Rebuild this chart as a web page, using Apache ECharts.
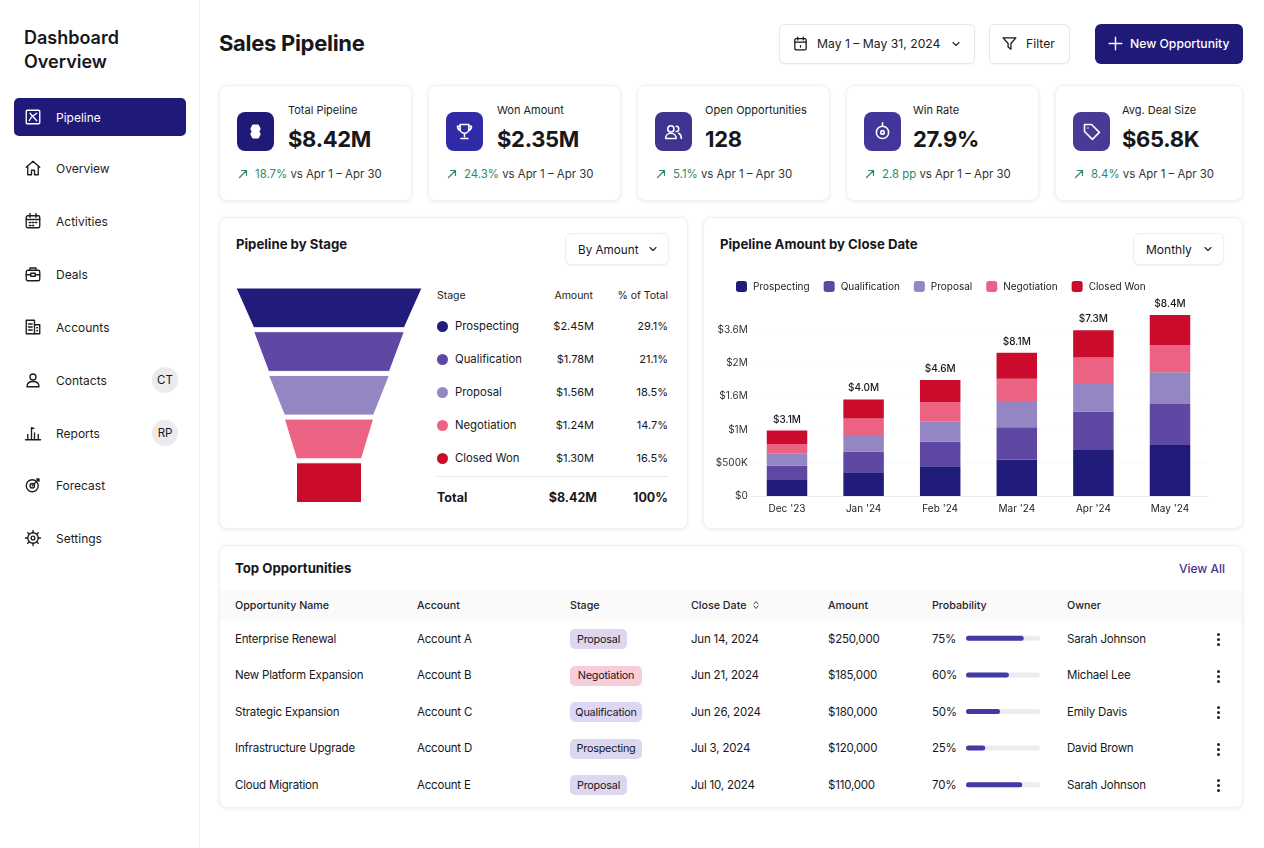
<!DOCTYPE html>
<html><head><meta charset="utf-8"><title>Sales Pipeline</title>
<script src="https://cdn.jsdelivr.net/npm/echarts@6/dist/echarts.min.js"></script>
<style>
html,body{margin:0;padding:0;background:#fff;width:1264px;height:848px;overflow:hidden;font-family:Inter,"Noto Sans",sans-serif;color:#17171c}
.a{position:absolute}
.t{position:absolute;white-space:nowrap;transform:translateY(-50%);line-height:1.2}
.r{transform:translate(-100%,-50%)}
.card{position:absolute;background:#fff;border:1px solid #f1f1f4;border-radius:8px;box-shadow:0 1px 4px rgba(30,30,60,.07);box-sizing:border-box}
.btn{position:absolute;background:#fff;border:1px solid #e7e7eb;border-radius:6px;box-shadow:0 1px 2px rgba(30,30,60,.05);box-sizing:border-box}
svg.i{position:absolute;fill:none;stroke:currentColor;stroke-width:1.8;stroke-linecap:round;stroke-linejoin:round}
#chart{position:absolute;left:0;top:0;width:1264px;height:848px;z-index:5}
</style></head><body><div id="ui"></div><div id="chart"></div>
<script>
// ---------- chart data ----------
const stages = ['Prospecting','Qualification','Proposal','Negotiation','Closed Won'];
const stageColors = ['#211c7a','#5e48a3','#9486c2','#ec6283','#cb0b2c'];
const funnelWidths = [100,81,65,48,35];
const stageAmounts = ['$2.45M','$1.78M','$1.56M','$1.24M','$1.30M'];
const stageShares = ['29.1%','21.1%','18.5%','14.7%','16.5%'];
const months = ["Dec '23","Jan '24","Feb '24","Mar '24","Apr '24","May '24"];
const prospecting = [251,356,447,547,693,768];
const qualification = [206,311,371,487,577,617];
const proposal = [186,251,306,381,417,477];
const negotiation = [141,251,291,351,397,407];
const closedWon = [201,286,331,391,412,457];
const totalLabels = ['$3.1M','$4.0M','$4.6M','$8.1M','$7.3M','$8.4M'];
const yTickLabels = ['$0','$500K','$1M','$1.6M','$2M','$3.6M',''];
// ---------- table / KPI data ----------
const oppNames = ['Enterprise Renewal','New Platform Expansion','Strategic Expansion','Infrastructure Upgrade','Cloud Migration'];
const oppAccounts = ['Account A','Account B','Account C','Account D','Account E'];
const oppStages = ['Proposal','Negotiation','Qualification','Prospecting','Proposal'];
const oppDates = ['Jun 14, 2024','Jun 21, 2024','Jun 26, 2024','Jul 3, 2024','Jul 10, 2024'];
const oppAmounts = ['$250,000','$185,000','$180,000','$120,000','$110,000'];
const oppProb = [75,60,50,25,70];
const oppBarFill = [78,58,46,26,76];
const oppOwners = ['Sarah Johnson','Michael Lee','Emily Davis','David Brown','Sarah Johnson'];
const kpiLabels = ['Total Pipeline','Won Amount','Open Opportunities','Win Rate','Avg. Deal Size'];
const kpiValues = ['$8.42M','$2.35M','128','27.9%','$65.8K'];
const kpiDeltas = ['18.7%','24.3%','5.1%','2.8 pp','8.4%'];
const kpiCompare = 'vs Apr 1 – Apr 30';
const navItems = ['Pipeline','Overview','Activities','Deals','Accounts','Contacts','Reports','Forecast','Settings'];

// ---------- page furniture ----------
const NAVY='#1f1a78';
let h='';
const T=(x,y,s,st='',right=false)=>{h+=`<div class="t${right?' r':''}" style="left:${x}px;top:${y+0.6}px;${st}">${s}</div>`};
const BOX=(c,x,y,w,ht,st='')=>{h+=`<div class="${c}" style="left:${x}px;top:${y}px;width:${w}px;height:${ht}px;${st}"></div>`};
const ICON=(x,y,s,p,st='')=>{h+=`<svg class="i" viewBox="0 0 24 24" style="left:${x}px;top:${y}px;width:${s}px;height:${s}px;${st}">${p}</svg>`};
const chev=(x,y)=>ICON(x,y,12,'<path d="M6 9l6 6 6-6"/>','stroke-width:2.2;color:#222');
const icons={
 Pipeline:'<rect x="3" y="3" width="18" height="18" rx="1.5"/><path d="M8 7l9 10M17 7l-7 5-3 5"/>',
 Overview:'<path d="M3 11l9-8 9 8M5 10v11h5v-6h4v6h5V10"/>',
 Activities:'<rect x="3" y="5" width="18" height="16" rx="2"/><path d="M3 10h18M8 2v5M16 2v5M7 14h2M11 14h2M15 14h2M7 18h2M11 18h2"/>',
 Deals:'<rect x="3" y="7" width="18" height="14" rx="2"/><path d="M8 7V4h8v3M3 13h6M15 13h6M9 11h6v4H9z"/>',
 Accounts:'<rect x="3" y="3" width="11" height="18"/><path d="M14 9h7v12h-7M6 8h5M6 12h5M6 16h5M17 13h1M17 17h1"/>',
 Contacts:'<circle cx="12" cy="8" r="4"/><path d="M4 21c0-5 4-7 8-7s8 2 8 7z"/>',
 Reports:'<path d="M2 21h20M5 21v-7M10 21V5l3 1M14 21v-9M19 21v-7"/>',
 Forecast:'<circle cx="11" cy="13" r="8"/><circle cx="11" cy="13" r="3"/><path d="M11 13L20 4M17 4h3v3"/>',
 Settings:'<circle cx="12" cy="12" r="7"/><circle cx="12" cy="12" r="2.5"/><path d="M12 2v3M12 19v3M2 12h3M19 12h3M5 5l2 2M17 17l2 2M19 5l-2 2M7 17l-2 2"/>'
};
// sidebar
BOX('a',199,0,1,848,'background:#f1f1f3');
T(24,37,'Dashboard','font-size:18px;font-weight:600');
T(24,61,'Overview','font-size:18px;font-weight:600');
BOX('a',14,98,172,38,`background:${NAVY};border-radius:5px`);
const navY=[117,168,221,274,327,380,433,485,538];
navItems.forEach((n,i)=>{
  ICON(24,navY[i]-9,18,icons[n],`color:${i?'#1d1d22':'#fff'}`);
  T(56,navY[i],n,`font-size:12px;color:${i?'#1d1d22':'#fff'}`);
});
[['CT',380],['RP',433]].forEach(([s,y])=>{
  BOX('a',152,y-13,26,26,'background:#ebebee;border-radius:50%');
  T(165,y,s,'font-size:11.5px;transform:translate(-50%,-50%)');
});
// header
T(219,42,'Sales Pipeline','font-size:22px;font-weight:700;letter-spacing:-.3px');
BOX('btn',779,24,196,40);
ICON(792,35,17,'<rect x="4" y="5" width="16" height="16" rx="2"/><path d="M4 10h16M8 3v4M16 3v4M12 15v2"/>');
T(817,43.5,'May 1 – May 31, 2024','font-size:12.2px;color:#222'); chev(950,38);
BOX('btn',989,24,81,40);
ICON(1001,35,17,'<path d="M3 4h18l-7 8v8l-4-3v-5z"/>');
T(1026,43.5,'Filter','font-size:12.2px;color:#222');
BOX('a',1095,24,148,40,`background:${NAVY};border-radius:6px`);
ICON(1106,34,19,'<path d="M12 4v16M4 12h16"/>','color:#fff');
T(1130,43.5,'New Opportunity','font-size:12.2px;font-weight:500;color:#fff');
// KPI cards
const kpiX=[219,428,637,846,1055];
const kpiW=[193,193,193,193,188];
const kpiTextX=[288,497,705,913,1122];
const kpiBg=[NAVY,'#2f2aa8','#3f3490','#43369a','#4a3a98'];
const kpiIcons=[
 '<path d="M9 5h6l2 4-1.5 3 1.5 3-2 4H9l-2-4 1.5-3L7 9z" fill="#fff" stroke="#fff"/>',
 '<path d="M7 4h10v5a5 5 0 0 1-10 0zM7 6H4c0 3 1 4 3 5M17 6h3c0 3-1 4-3 5M12 14v4M8 20h8"/>',
 '<circle cx="9" cy="9" r="3.5"/><path d="M3 20c0-4 3-6 6-6s6 2 6 6zM15 6a3 3 0 0 1 0 6M18 14c2 1 3 3 3 6"/>',
 '<circle cx="12" cy="13" r="7"/><circle cx="12" cy="13" r="2"/><path d="M12 2v4"/>',
 '<path d="M4 4h8l9 9-8 8-9-9zM8 8h.01"/>'];
kpiX.forEach((x,i)=>{
  BOX('card',x,85,kpiW[i],116);
  const ic=x+18;
  BOX('a',ic,112,37,39,`background:${kpiBg[i]};border-radius:8px`);
  ICON(ic+8,121,21,kpiIcons[i],'color:#fff');
  T(kpiTextX[i],110,kpiLabels[i],'font-size:11px;color:#222');
  T(kpiTextX[i],138,kpiValues[i],'font-size:22px;font-weight:700;letter-spacing:-.3px');
  ICON(x+18,168,12,'<path d="M5 19L19 5M9 5h10v10"/>','color:#2f8a5f;stroke-width:2.4');
  T(x+36,174,`<span style="color:#2f8a5f">${kpiDeltas[i]}</span>&nbsp;${kpiCompare}`,'font-size:11.4px;color:#333');
});
// chart cards
BOX('card',219,217,469,312);
BOX('card',703,217,540,312);
T(236,244,'Pipeline by Stage','font-size:13.2px;font-weight:700');
T(720,244,'Pipeline Amount by Close Date','font-size:13.2px;font-weight:700');
BOX('btn',565,233,104,32,'border-color:#efeff2');
T(578,249,'By Amount','font-size:11.7px'); chev(647,243);
BOX('btn',1133,233,91,32,'border-color:#efeff2');
T(1146,249,'Monthly','font-size:12px'); chev(1202,243);
// stage table
T(437,295,'Stage','font-size:10.5px;color:#222');
T(593,295,'Amount','font-size:10.5px;color:#222',true);
T(668,295,'% of Total','font-size:10.5px;color:#222',true);
const stageY=[326,359,392,425,458];
stages.forEach((s,i)=>{
  BOX('a',437,stageY[i]-5.5,11,11,`background:${stageColors[i]};border-radius:50%`);
  T(455,stageY[i],s,'font-size:11.3px');
  T(594,stageY[i],stageAmounts[i],'font-size:11px',true);
  T(668,stageY[i],stageShares[i],'font-size:11px',true);
});
BOX('a',437,476,231,1,'background:#e6e6ea');
T(437,496,'Total','font-size:12.5px;font-weight:700');
T(597,496,'$8.42M','font-size:12.5px;font-weight:700',true);
T(668,496,'100%','font-size:12.5px;font-weight:700',true);
// opportunities table
BOX('card',219,545,1024,263);
T(235,568,'Top Opportunities','font-size:13.2px;font-weight:700');
T(1225,568,'View All','font-size:12px;font-weight:500;color:#4b2f8f',true);
BOX('a',220,590,1022,31,'background:#fafafa');
const colX=[235,417,570,691,828,932,1067];
['Opportunity Name','Account','Stage','Close Date','Amount','Probability','Owner'].forEach((s,i)=>T(colX[i],605,s,'font-size:10.7px;font-weight:500;color:#222'));
ICON(750,599,12,'<path d="M8 10l4-5 4 5M8 14l4 5 4-5"/>','stroke-width:2;color:#444');
const rowY=[639,675.5,712,748.5,785];
const badge={Proposal:['#dcd6ef',57],Negotiation:['#f9cdd8',72],Qualification:['#ddd7f5',72],Prospecting:['#dcd6ef',72]};
oppNames.forEach((n,i)=>{
  const y=rowY[i],b=badge[oppStages[i]];
  const cell='font-size:11.5px;letter-spacing:-.2px';
  T(colX[0],y,n,cell);
  T(colX[1],y,oppAccounts[i],cell);
  BOX('a',colX[2],y-10,b[1],20,`background:${b[0]};border-radius:5px`);
  T(colX[2]+b[1]/2,y,oppStages[i],'font-size:10.8px;transform:translate(-50%,-50%);letter-spacing:-.2px');
  T(colX[3],y,oppDates[i],cell);
  T(colX[4],y,oppAmounts[i],cell);
  T(colX[5],y,oppProb[i]+'%',cell);
  T(colX[6],y,oppOwners[i],cell);
  [-5,0,5].forEach(d=>BOX('a',1216.5,Math.round(y)+d-1,3,3,'background:#222;border-radius:50%'));
});
document.getElementById('ui').innerHTML=h;

// ---------- charts ----------
const chart=echarts.init(document.getElementById('chart'),null,{width:1264,height:848});
const barValues=[prospecting,qualification,proposal,negotiation,closedWon];
chart.setOption({
  animation:false,
  backgroundColor:'transparent',
  textStyle:{fontFamily:'Inter'},
  legend:{left:736,top:281,padding:0,itemWidth:11,itemHeight:11,itemGap:14,icon:'roundRect',data:stages,
    textStyle:{fontSize:10,color:'#222',padding:[0,0,0,1]},selectedMode:false},
  grid:[{left:748.7,top:296.8,width:459.6,height:199.2},
        {left:966,top:620,width:74,height:183}],
  xAxis:[
   {gridIndex:0,type:'category',data:months,axisTick:{show:false},axisLine:{lineStyle:{color:'#ececf0'}},
    axisLabel:{fontSize:10,color:'#222',margin:8}},
   {gridIndex:1,type:'value',min:0,max:100,show:false}],
  yAxis:[
   {gridIndex:0,type:'value',min:0,max:3000,interval:500,axisLine:{show:false},axisTick:{show:false},
    axisLabel:{fontSize:10,color:'#333',margin:1,formatter:v=>yTickLabels[v/500]},
    splitLine:{lineStyle:{color:['#ececf0','#f5f5f7','#f5f5f7','#f5f5f7','#f5f5f7','#f5f5f7','transparent'],type:'dotted'}}},
   {gridIndex:1,type:'category',inverse:true,data:oppNames,show:false}],
  series:[
   ...stages.map((s,i)=>({
     type:'bar',name:s,stack:'pipeline',xAxisIndex:0,yAxisIndex:0,data:barValues[i],barWidth:40.5,
     itemStyle:{color:stageColors[i]},silent:true,
     label:i===4?{show:true,position:'top',distance:6,fontSize:10,fontWeight:500,color:'#17171c',
       formatter:p=>totalLabels[p.dataIndex]}:{show:false}
   })),
   {type:'funnel',name:'Pipeline by Stage',left:236,top:288,width:186,height:214.5,gap:4,sort:'none',
    min:35,max:100,minSize:65,maxSize:186,funnelAlign:'center',silent:true,
    label:{show:false},labelLine:{show:false},
    data:stages.map((s,i)=>({name:s,value:funnelWidths[i],itemStyle:{color:stageColors[i]}}))},
   {type:'bar',name:'Probability',xAxisIndex:1,yAxisIndex:1,data:oppBarFill,barWidth:5,silent:true,
    showBackground:true,backgroundStyle:{color:'#ececef',borderRadius:3},
    itemStyle:{color:'#443aa6',borderRadius:3}}
  ]
});
</script></body></html>
